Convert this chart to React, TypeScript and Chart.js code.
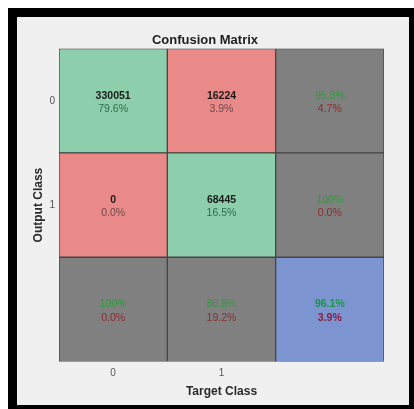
import React, { useEffect, useRef } from "react";
import { Chart, registerables } from "chart.js";

Chart.register(...registerables);

const classLabels = ["0", "1"];
const colLabels = ["0", "1", ""];
// counts[row][col], row = output class, col = target class
const counts = [
  [330051, 16224],
  [0, 68445],
];
const cellPercents = [
  [79.6, 3.9],
  [0.0, 16.5],
];
const rowCorrect = [95.3, 100];
const rowWrong = [4.7, 0.0];
const colCorrect = [100, 80.8];
const colWrong = [0.0, 19.2];
const overallCorrect = 96.1;
const overallWrong = 3.9;

const GREEN = "#8dcfac";
const RED = "#e98a89";
const GRAY = "#808080";
const BLUE = "#7c95d1";

const fmt = (v: number) => (v === 100 ? "100%" : v.toFixed(1) + "%");

type CellInfo = { bg: string; lines: { text: string; color: string; bold: boolean }[] };

function cellInfo(row: number, col: number): CellInfo {
  const n = classLabels.length;
  if (row < n && col < n) {
    const diag = row === col;
    return {
      bg: diag ? GREEN : RED,
      lines: [
        { text: String(counts[row][col]), color: "#1a1a1a", bold: true },
        { text: fmt(cellPercents[row][col]), color: diag ? "#2f6a4c" : "#6e4a4a", bold: false },
      ],
    };
  }
  if (row < n && col === n) {
    return {
      bg: GRAY,
      lines: [
        { text: fmt(rowCorrect[row]), color: "#2f9a3c", bold: false },
        { text: fmt(rowWrong[row]), color: "#8a2c2c", bold: false },
      ],
    };
  }
  if (row === n && col < n) {
    return {
      bg: GRAY,
      lines: [
        { text: fmt(colCorrect[col]), color: "#2f9a3c", bold: false },
        { text: fmt(colWrong[col]), color: "#8a2c2c", bold: false },
      ],
    };
  }
  return {
    bg: BLUE,
    lines: [
      { text: fmt(overallCorrect), color: "#18954a", bold: true },
      { text: fmt(overallWrong), color: "#8a1c3c", bold: true },
    ],
  };
}

export default function App() {
  const ref = useRef<HTMLCanvasElement | null>(null);

  useEffect(() => {
    if (!ref.current) return;
    const n = classLabels.length;
    const total = colLabels.length;
    // datasets from bottom row (summary) up to row 0
    const rowsBottomUp = [n, ...classLabels.map((_, i) => n - 1 - i)];
    const datasets = rowsBottomUp.map((row) => ({
      label: row < n ? classLabels[row] : "total",
      data: colLabels.map(() => 1),
      backgroundColor: colLabels.map((_, col) => cellInfo(row, col).bg),
      borderColor: "#454545",
      borderWidth: 1,
      borderSkipped: false as const,
      barPercentage: 1,
      categoryPercentage: 1,
      rowIndex: row,
    }));

    const textPlugin = {
      id: "cellText",
      afterDatasetsDraw(chart: any) {
        const ctx = chart.ctx;
        ctx.save();
        ctx.textAlign = "center";
        ctx.textBaseline = "middle";
        chart.data.datasets.forEach((ds: any, di: number) => {
          const meta = chart.getDatasetMeta(di);
          meta.data.forEach((el: any, col: number) => {
            const info = cellInfo(ds.rowIndex, col);
            const cx = el.x;
            const cy = (el.y + el.base) / 2;
            info.lines.forEach((ln, li) => {
              ctx.font = (ln.bold ? "bold " : "") + '10.5px "Liberation Sans", Arial, sans-serif';
              ctx.fillStyle = ln.color;
              ctx.fillText(ln.text, cx, cy + (li === 0 ? -5 : 8.5));
            });
          });
        });
        ctx.restore();
      },
    };

    const chart = new Chart(ref.current, {
      type: "bar",
      data: { labels: colLabels, datasets: datasets as any },
      options: {
        animation: false,
        responsive: false,
        devicePixelRatio: 1,
        layout: { padding: { left: 9, right: 25, top: 16, bottom: 7.4 } },
        plugins: {
          legend: { display: false },
          tooltip: { enabled: false },
          title: {
            display: true,
            text: "Confusion Matrix",
            color: "#1e1e1e",
            font: { family: '"Liberation Sans", Arial, sans-serif', size: 13, weight: "bold" },
            padding: { top: 0, bottom: 0 },
          },
        },
        scales: {
          x: {
            stacked: true,
            grid: { display: false, drawTicks: false },
            border: { display: false },
            ticks: {
              color: "#555",
              padding: 6,
              font: { family: '"Liberation Sans", Arial, sans-serif', size: 10 },
              maxRotation: 0,
            },
            title: {
              display: true,
              text: "Target Class",
              color: "#2a2a2a",
              font: { family: '"Liberation Sans", Arial, sans-serif', size: 12, weight: "bold", lineHeight: 1 },
              padding: { top: 0, bottom: 0 },
            },
          },
          y: {
            stacked: true,
            min: 0,
            max: total,
            grid: { display: false, drawTicks: false },
            border: { display: false },
            afterBuildTicks: (axis: any) => {
              axis.ticks = classLabels.map((_, i) => ({ value: total - i - 0.5 }));
            },
            ticks: {
              color: "#555",
              padding: 4,
              font: { family: '"Liberation Sans", Arial, sans-serif', size: 10 },
              callback: (v: any) => classLabels[Math.round(total - 0.5 - Number(v))],
            },
            title: {
              display: true,
              text: "Output Class",
              color: "#2a2a2a",
              font: { family: '"Liberation Sans", Arial, sans-serif', size: 12, weight: "bold" },
              padding: { top: 5, bottom: 0 },
            },
          },
        },
      },
      plugins: [textPlugin],
    });
    return () => chart.destroy();
  }, []);

  return (
    <div style={{ position: "fixed", left: 0, top: 0, width: 414, height: 409, background: "#fff", overflow: "hidden" }}>
      <div style={{ position: "absolute", left: 8, top: 8, width: 406, height: 401, background: "#000" }} />
      <div style={{ position: "absolute", left: 17, top: 17, width: 392, height: 388, background: "#f0f0f0" }}>
        <canvas ref={ref} width={392} height={388} style={{ display: "block" }} />
      </div>
    </div>
  );
}
